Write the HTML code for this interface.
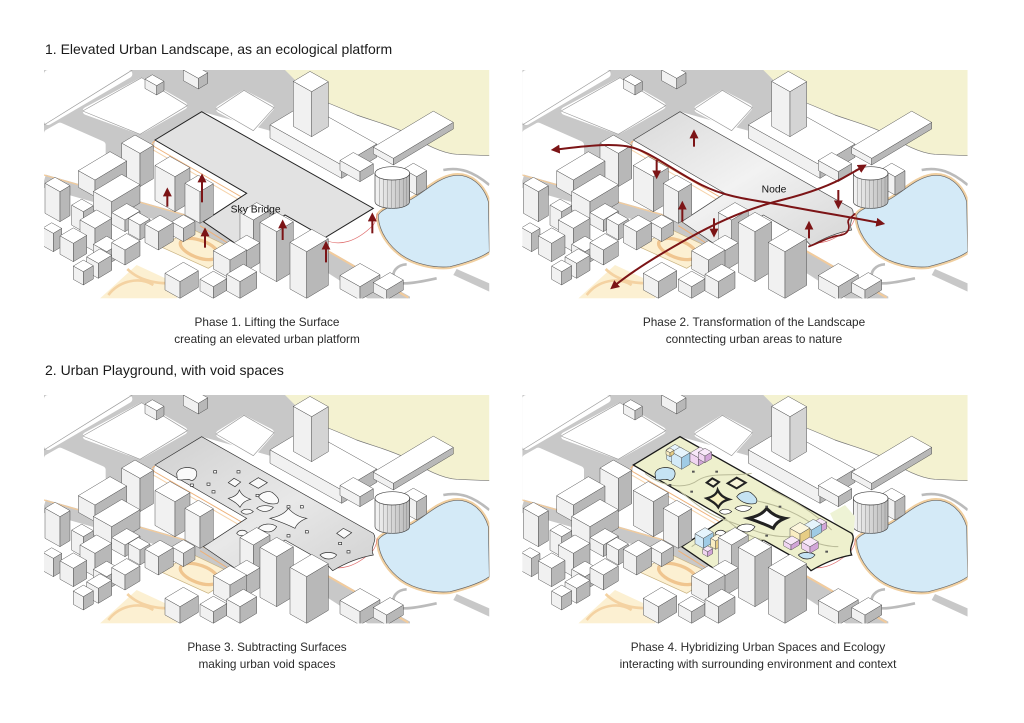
<!DOCTYPE html>
<html><head><meta charset="utf-8">
<style>
html,body{margin:0;padding:0;background:#fff;}
svg{display:block;font-family:"Liberation Sans",Arial,sans-serif;}
.l{fill:#f1f1f1}.r{fill:#b8b8b8}.t{fill:#fff}
.l,.r,.t{stroke:#444;stroke-width:.45;vector-effect:non-scaling-stroke}
.bl .l{fill:#d3eaf8}.bl .r{fill:#9fcbe5}.bl .t{fill:#e6f4fc}
.pk .l{fill:#f0d5f1}.pk .r{fill:#d2a5d8}.pk .t{fill:#f8e8f9}
.yl .l{fill:#f9edc2}.yl .r{fill:#e6cd85}.yl .t{fill:#fcf6dc}
</style></head>
<body>
<svg width="1024" height="723" viewBox="0 0 1024 723" xmlns="http://www.w3.org/2000/svg">
<defs>
<clipPath id="pc"><rect x="12" y="15" width="1336" height="685"/></clipPath>
<linearGradient id="cyl" x1="0" x2="1" y1="0" y2="0"><stop offset="0" stop-color="#f4f4f4"/><stop offset="1" stop-color="#b8b8b8"/></linearGradient>
<linearGradient id="g2" x1="0" x2="1" y1="0" y2="1"><stop offset="0" stop-color="#d9d9d9"/><stop offset=".5" stop-color="#f2f2f2"/><stop offset="1" stop-color="#d6d6d6"/></linearGradient>
<linearGradient id="g3" x1="0" x2="1" y1="0" y2="1"><stop offset="0" stop-color="#d0d0d0"/><stop offset=".55" stop-color="#e8e8e8"/><stop offset="1" stop-color="#d2d2d2"/></linearGradient>
<marker id="ah" viewBox="0 0 10 10" refX="6" refY="5" markerWidth="4.5" markerHeight="4.5" orient="auto-start-reverse"><path d="M0,0 L10,5 L0,10 Z" fill="#7c1416"/></marker>

<path id="plat" d="M345,225 L485,140 L1000,430 L855,518 L735,450 L600,545 L490,470 L620,385 Z"/>
<path id="platw" d="M345,225 L485,140 L1000,430 C1015,450 988,470 1000,495 C960,502 915,520 878,542 L855,518 L735,450 L600,545 L490,470 L620,385 Z"/>
<path id="lake" d="M1015,450 C1030,425 1080,420 1110,405 C1150,385 1190,340 1240,332 C1290,325 1330,360 1345,410 L1348,560 C1320,580 1270,595 1230,605 C1180,610 1120,595 1085,570 C1050,545 1015,500 1015,450 Z"/>

<g id="back">
 <rect x="0" y="0" width="1380" height="720" fill="#fff"/>
 <path fill="#f4f2d1" d="M700,15 L1348,15 L1348,272 L1250,268 C1205,265 1160,240 1100,205 C1050,180 1000,168 950,150 C900,128 860,112 820,96 C775,78 735,50 700,15 Z"/>
 <path fill="none" stroke="#777" stroke-width="2" d="M1348,272 L1250,268 C1205,265 1160,240 1100,205 C1050,180 1000,168 950,150 C900,128 860,112 820,96 C775,78 735,50 700,15"/>
 <path fill="#c8c8c8" d="M12,15 L735,15 L790,70 L790,150 L700,200 L485,140 L345,225 L330,330 L12,330 Z"/>
 <g fill="#fff" stroke="#fff" stroke-width="24" stroke-linejoin="round">
  <path d="M24,27 L265,27 L24,168 Z"/>
  <path d="M140,138 L305,50 L430,122 L300,196 Z"/>
  <path d="M540,132 L612,88 L690,128 L640,185 Z"/>
  <path d="M24,205 L60,185 L185,240 L185,330 L24,335 Z"/>
 </g>
 <g fill="none" stroke="#9a9a9a" stroke-width="2" stroke-linejoin="round">
  <path d="M12,180 L277,15"/>
  <path d="M128,138 L305,38 L442,122 L300,208 Z"/>
  <path d="M528,132 L612,76 L702,128 L640,197 Z"/>
 </g>
 <path d="M12,348 L230,410 L470,478 L625,560" stroke="#c8c8c8" stroke-width="40" fill="none"/>
 <path d="M12,330 L230,392 L470,460 L625,540" stroke="#f2cb9c" stroke-width="4" fill="none"/>
 <path fill="#c8c8c8" d="M858,552 L1110,695 L1110,705 L990,705 L850,615 Z"/>
 <path d="M860,556 L1105,698" stroke="#f2cb9c" stroke-width="6"/>
 <!-- parks -->
 <path fill="#fcf0d2" stroke="#c9b27f" stroke-width="2" d="M362,545 L455,492 L590,556 L505,610 Z"/>
 <ellipse cx="478" cy="552" rx="60" ry="26" fill="none" stroke="#f0c58f" stroke-width="10" transform="rotate(20 478 552)"/>
 <path fill="#fcf0d2" d="M180,700 L290,600 L430,665 L410,700 Z"/>
 <path d="M205,690 C240,645 300,635 340,660 M262,612 C300,650 360,660 420,652" stroke="#f4d2a2" stroke-width="8" fill="none"/>
 <!-- lake -->
 <use href="#lake" fill="none" stroke="#f0cfa0" stroke-width="14"/>
 <use href="#lake" fill="#d4eaf7" stroke="#666" stroke-width="2"/>
 <path d="M1210,315 C1260,305 1300,320 1348,360" stroke="#bbb" stroke-width="8" fill="none"/>
 <path d="M1100,598 C1070,600 1055,620 1062,640 C1070,660 1100,660 1190,640" stroke="#bbb" stroke-width="8" fill="none"/>
 <path fill="#c8c8c8" d="M1250,612 L1348,655 L1348,680 L1240,630 Z"/>
 <path d="M855,525 C900,545 950,530 1000,480 C1010,465 1010,455 1012,445" stroke="#e07070" stroke-width="2" fill="none"/>
 <path d="M345,228 Q330,236 345,246 L615,402" stroke="#eeb27a" stroke-width="3" fill="none"/>
 <path d="M338,234 Q325,248 345,258 L610,412" stroke="#f6d3aa" stroke-width="3" fill="none"/>
 <path d="M480,482 L600,557" stroke="#eeb27a" stroke-width="3" fill="none"/>
 <!-- back buildings -->
 <g transform="translate(350,90)"><rect class="l" transform="skewY(29.25)" x="-35" y="-28" width="35" height="28"/><rect class="r" transform="skewY(-30.96)" y="-28" width="22" height="28"/><rect class="t" transform="matrix(-1,-.56,1,-.6,0,-28)" width="35" height="22"/></g>
 <g transform="translate(475,72)"><rect class="l" transform="skewY(29.25)" x="-45" y="-32" width="45" height="32"/><rect class="r" transform="skewY(-30.96)" y="-32" width="28" height="32"/><rect class="t" transform="matrix(-1,-.56,1,-.6,0,-32)" width="45" height="28"/></g>
 <g transform="translate(905,340)"><rect class="l" transform="skewY(29.25)" x="-215" y="-40" width="215" height="40"/><rect class="r" transform="skewY(-30.96)" y="-40" width="105" height="40"/><rect class="t" transform="matrix(-1,-.56,1,-.6,0,-40)" width="215" height="105"/></g>
 <g transform="translate(815,215)"><rect class="l" transform="skewY(29.25)" x="-55" y="-135" width="55" height="135"/><rect class="r" transform="skewY(-30.96)" y="-135" width="50" height="135" style="fill:#d4d4d4"/><rect class="t" transform="matrix(-1,-.56,1,-.6,0,-135)" width="55" height="50"/></g>
 <g transform="translate(1060,300)"><rect class="l" transform="skewY(29.25)" x="-60" y="-20" width="60" height="20"/><rect class="r" transform="skewY(-30.96)" y="-20" width="180" height="20"/><rect class="t" transform="matrix(-1,-.56,1,-.6,0,-20)" width="60" height="180"/></g>
 <g transform="translate(960,350)"><rect class="l" transform="skewY(29.25)" x="-60" y="-30" width="60" height="30"/><rect class="r" transform="skewY(-30.96)" y="-30" width="40" height="30"/><rect class="t" transform="matrix(-1,-.56,1,-.6,0,-30)" width="60" height="40"/></g>
 <g transform="translate(1130,390)"><rect class="l" transform="skewY(29.25)" x="-40" y="-55" width="40" height="55"/><rect class="r" transform="skewY(-30.96)" y="-55" width="30" height="55"/><rect class="t" transform="matrix(-1,-.56,1,-.6,0,-55)" width="40" height="30"/></g>
 <path d="M1005,325 V410 A52,20 0 0 0 1109,410 V325 Z" fill="url(#cyl)" stroke="#444" stroke-width="2"/>
 <path d="M1018,330V422 M1030,330V427 M1042,330V430 M1054,330V430 M1066,330V430 M1078,330V428 M1090,330V425 M1100,330V420" stroke="#8a8a8a" stroke-width="1.5"/>
 <ellipse cx="1057" cy="325" rx="52" ry="20" fill="#fff" stroke="#444" stroke-width="2"/>
 <!-- left cluster -->
 <g transform="translate(300,365)"><rect class="l" transform="skewY(29.25)" x="-55" y="-100" width="55" height="100"/><rect class="r" transform="skewY(-30.96)" y="-100" width="40" height="100"/><rect class="t" transform="matrix(-1,-.56,1,-.6,0,-100)" width="55" height="40"/></g>
 <g transform="translate(165,395)"><rect class="l" transform="skewY(29.25)" x="-50" y="-50" width="50" height="50"/><rect class="r" transform="skewY(-30.96)" y="-50" width="95" height="50"/><rect class="t" transform="matrix(-1,-.56,1,-.6,0,-50)" width="50" height="95"/></g>
 <g transform="translate(405,440)"><rect class="l" transform="skewY(29.25)" x="-60" y="-105" width="60" height="105"/><rect class="r" transform="skewY(-30.96)" y="-105" width="45" height="105"/><rect class="t" transform="matrix(-1,-.56,1,-.6,0,-105)" width="60" height="45"/></g>
 <g transform="translate(215,465)"><rect class="l" transform="skewY(29.25)" x="-55" y="-55" width="55" height="55"/><rect class="r" transform="skewY(-30.96)" y="-55" width="85" height="55"/><rect class="t" transform="matrix(-1,-.56,1,-.6,0,-55)" width="55" height="85"/></g>
 <g transform="translate(60,470)"><rect class="l" transform="skewY(29.25)" x="-45" y="-90" width="45" height="90"/><rect class="r" transform="skewY(-30.96)" y="-90" width="30" height="90"/><rect class="t" transform="matrix(-1,-.56,1,-.6,0,-90)" width="45" height="30"/></g>
 <g transform="translate(130,500)"><rect class="l" transform="skewY(29.25)" x="-35" y="-60" width="35" height="60"/><rect class="r" transform="skewY(-30.96)" y="-60" width="30" height="60"/><rect class="t" transform="matrix(-1,-.56,1,-.6,0,-60)" width="35" height="30"/></g>
 <g transform="translate(255,500)"><rect class="l" transform="skewY(29.25)" x="-40" y="-35" width="40" height="35"/><rect class="r" transform="skewY(-30.96)" y="-35" width="45" height="35"/><rect class="t" transform="matrix(-1,-.56,1,-.6,0,-35)" width="40" height="45"/></g>
 <g transform="translate(300,525)"><rect class="l" transform="skewY(29.25)" x="-35" y="-45" width="35" height="45"/><rect class="r" transform="skewY(-30.96)" y="-45" width="30" height="45"/><rect class="t" transform="matrix(-1,-.56,1,-.6,0,-45)" width="35" height="30"/></g>
 <g transform="translate(430,530)"><rect class="l" transform="skewY(29.25)" x="-35" y="-40" width="35" height="40"/><rect class="r" transform="skewY(-30.96)" y="-40" width="35" height="40"/><rect class="t" transform="matrix(-1,-.56,1,-.6,0,-40)" width="35" height="35"/></g>
 <g transform="translate(355,555)"><rect class="l" transform="skewY(29.25)" x="-40" y="-55" width="40" height="55"/><rect class="r" transform="skewY(-30.96)" y="-55" width="45" height="55"/><rect class="t" transform="matrix(-1,-.56,1,-.6,0,-55)" width="40" height="45"/></g>
 <g transform="translate(40,560)"><rect class="l" transform="skewY(29.25)" x="-30" y="-55" width="30" height="55"/><rect class="r" transform="skewY(-30.96)" y="-55" width="25" height="55"/><rect class="t" transform="matrix(-1,-.56,1,-.6,0,-55)" width="30" height="25"/></g>
 <g transform="translate(165,560)"><rect class="l" transform="skewY(29.25)" x="-45" y="-70" width="45" height="70"/><rect class="r" transform="skewY(-30.96)" y="-70" width="50" height="70"/><rect class="t" transform="matrix(-1,-.56,1,-.6,0,-70)" width="45" height="50"/></g>
 <g transform="translate(100,590)"><rect class="l" transform="skewY(29.25)" x="-40" y="-55" width="40" height="55"/><rect class="r" transform="skewY(-30.96)" y="-55" width="40" height="55"/><rect class="t" transform="matrix(-1,-.56,1,-.6,0,-55)" width="40" height="40"/></g>
 <g transform="translate(200,600)"><rect class="l" transform="skewY(29.25)" x="-40" y="-40" width="40" height="40"/><rect class="r" transform="skewY(-30.96)" y="-40" width="40" height="40"/><rect class="t" transform="matrix(-1,-.56,1,-.6,0,-40)" width="40" height="40"/></g>
 <g transform="translate(255,600)"><rect class="l" transform="skewY(29.25)" x="-40" y="-45" width="40" height="45"/><rect class="r" transform="skewY(-30.96)" y="-45" width="45" height="45"/><rect class="t" transform="matrix(-1,-.56,1,-.6,0,-45)" width="40" height="45"/></g>
 <g transform="translate(175,640)"><rect class="l" transform="skewY(29.25)" x="-35" y="-45" width="35" height="45"/><rect class="r" transform="skewY(-30.96)" y="-45" width="40" height="45"/><rect class="t" transform="matrix(-1,-.56,1,-.6,0,-45)" width="35" height="40"/></g>
 <g transform="translate(130,660)"><rect class="l" transform="skewY(29.25)" x="-30" y="-40" width="30" height="40"/><rect class="r" transform="skewY(-30.96)" y="-40" width="30" height="40"/><rect class="t" transform="matrix(-1,-.56,1,-.6,0,-40)" width="30" height="30"/></g>
 <g transform="translate(420,700)"><rect class="l" transform="skewY(29.25)" x="-45" y="-50" width="45" height="50"/><rect class="r" transform="skewY(-30.96)" y="-50" width="55" height="50"/><rect class="t" transform="matrix(-1,-.56,1,-.6,0,-50)" width="45" height="55"/></g>
 <g transform="translate(520,700)"><rect class="l" transform="skewY(29.25)" x="-40" y="-35" width="40" height="35"/><rect class="r" transform="skewY(-30.96)" y="-35" width="40" height="35"/><rect class="t" transform="matrix(-1,-.56,1,-.6,0,-35)" width="40" height="40"/></g>
</g>

<g id="front">
 <g transform="translate(480,475)"><rect class="l" transform="skewY(29.25)" x="-45" y="-95" width="45" height="95"/><rect class="r" transform="skewY(-30.96)" y="-95" width="40" height="95"/><rect class="t" transform="matrix(-1,-.56,1,-.6,0,-95)" width="45" height="40"/></g>
 <g transform="translate(640,580)"><rect class="l" transform="skewY(29.25)" x="-40" y="-115" width="40" height="115"/><rect class="r" transform="skewY(-30.96)" y="-115" width="50" height="115"/><rect class="t" transform="matrix(-1,-.56,1,-.6,0,-115)" width="40" height="50"/></g>
 <g transform="translate(615,620)"><rect class="l" transform="skewY(29.25)" x="-40" y="-60" width="40" height="60"/><rect class="r" transform="skewY(-30.96)" y="-60" width="45" height="60"/><rect class="t" transform="matrix(-1,-.56,1,-.6,0,-60)" width="40" height="45"/></g>
 <g transform="translate(570,640)"><rect class="l" transform="skewY(29.25)" x="-50" y="-55" width="50" height="55"/><rect class="r" transform="skewY(-30.96)" y="-55" width="50" height="55"/><rect class="t" transform="matrix(-1,-.56,1,-.6,0,-55)" width="50" height="50"/></g>
 <g transform="translate(710,650)"><rect class="l" transform="skewY(29.25)" x="-50" y="-150" width="50" height="150"/><rect class="r" transform="skewY(-30.96)" y="-150" width="50" height="150"/><rect class="t" transform="matrix(-1,-.56,1,-.6,0,-150)" width="50" height="50"/></g>
 <g transform="translate(600,700)"><rect class="l" transform="skewY(29.25)" x="-40" y="-50" width="40" height="50"/><rect class="r" transform="skewY(-30.96)" y="-50" width="50" height="50"/><rect class="t" transform="matrix(-1,-.56,1,-.6,0,-50)" width="40" height="50"/></g>
 <g transform="translate(800,700)"><rect class="l" transform="skewY(29.25)" x="-50" y="-140" width="50" height="140"/><rect class="r" transform="skewY(-30.96)" y="-140" width="65" height="140"/><rect class="t" transform="matrix(-1,-.56,1,-.6,0,-140)" width="50" height="65"/></g>
 <g transform="translate(960,705)"><rect class="l" transform="skewY(29.25)" x="-60" y="-40" width="60" height="40"/><rect class="r" transform="skewY(-30.96)" y="-40" width="60" height="40"/><rect class="t" transform="matrix(-1,-.56,1,-.6,0,-40)" width="60" height="60"/></g>
 <g transform="translate(1040,705)"><rect class="l" transform="skewY(29.25)" x="-40" y="-30" width="40" height="30"/><rect class="r" transform="skewY(-30.96)" y="-30" width="50" height="30"/><rect class="t" transform="matrix(-1,-.56,1,-.6,0,-30)" width="40" height="50"/></g>
</g>

<g id="holes">
 <path d="M410,250 C415,232 445,228 465,238 C475,248 470,268 455,272 C440,262 425,275 412,268 Z"/>
 <path d="M565,278 L582,265 L602,276 L585,290 Z"/>
 <path d="M628,280 L655,263 L682,278 L655,295 Z"/>
 <path d="M565,325 C585,320 595,312 598,300 C605,315 615,322 632,328 C612,333 605,342 600,352 C592,340 582,335 565,325 Z"/>
 <path d="M655,320 C665,305 690,300 700,310 C710,318 722,330 712,340 C695,345 670,340 655,320 Z"/>
 <path d="M650,355 C660,345 685,345 700,352 C690,365 670,370 650,355 Z"/>
 <path d="M603,365 C612,355 630,355 640,365 C628,375 612,375 603,365 Z"/>
 <path d="M690,385 C715,380 735,370 745,355 C760,372 780,382 800,385 C782,392 770,402 765,415 C745,405 720,395 690,385 Z"/>
 <path d="M655,415 C665,400 695,398 710,410 C700,428 680,432 655,415 Z"/>
 <path d="M590,430 C597,418 615,418 622,428 C612,440 598,440 590,430 Z"/>
 <path d="M890,430 L910,415 L935,428 L912,445 Z"/>
 <path d="M840,495 C850,485 880,485 890,495 C880,510 855,512 840,495 Z"/>
 <rect x="521" y="242" width="9" height="7"/><rect x="591" y="242" width="9" height="7"/><rect x="501" y="279" width="9" height="7"/><rect x="451" y="282" width="9" height="7"/><rect x="516" y="302" width="9" height="7"/><rect x="648" y="313" width="9" height="7"/><rect x="741" y="347" width="9" height="7"/><rect x="781" y="347" width="9" height="7"/><rect x="741" y="434" width="9" height="7"/><rect x="796" y="422" width="9" height="7"/><rect x="601" y="452" width="9" height="7"/><rect x="921" y="482" width="9" height="7"/><rect x="896" y="457" width="9" height="7"/>
</g>
</defs>

<!-- HEADINGS / CAPTIONS -->
<text x="45" y="54" font-size="14" fill="#1a1a1a">1. Elevated Urban Landscape, as an ecological platform</text>
<text x="45" y="375" font-size="14" fill="#1a1a1a">2. Urban Playground, with void spaces</text>
<g font-size="11.8" fill="#2a2a2a" text-anchor="middle">
<text x="267" y="326">Phase 1. Lifting the Surface</text>
<text x="267" y="343">creating an elevated urban platform</text>
<text x="754" y="326">Phase 2. Transformation of the Landscape</text>
<text x="754" y="343">conntecting urban areas to nature</text>
<text x="267" y="651">Phase 3. Subtracting Surfaces</text>
<text x="267" y="668">making urban void spaces</text>
<text x="758" y="651">Phase 4. Hybridizing Urban Spaces and Ecology</text>
<text x="758" y="668">interacting with surrounding environment and context</text>
</g>

<!-- PANEL 1 -->
<g transform="translate(40,65) scale(.33333)" clip-path="url(#pc)">
 <use href="#back"/>
 <use href="#plat" fill="#e2e2e2" stroke="#222" stroke-width="3"/>
 <use href="#front"/>
 <g stroke="#7c1416" stroke-width="6" marker-end="url(#ah)" fill="none">
  <path d="M382,425 L382,378"/><path d="M486,412 L486,336"/><path d="M495,548 L495,498"/>
  <path d="M728,525 L728,474"/><path d="M858,592 L858,538"/><path d="M997,505 L997,453"/>
 </g>
 <text x="572" y="442" font-size="31" fill="#111">Sky Bridge</text>
</g>

<!-- PANEL 2 -->
<g transform="translate(518.33,65) scale(.33333)" clip-path="url(#pc)">
 <use href="#back"/>
 <use href="#platw" fill="url(#g2)" stroke="#444" stroke-width="2"/>
 <use href="#front"/>
 <g stroke="#7c1416" fill="none">
  <path d="M870,545 C900,535 930,515 970,510 C990,505 995,490 990,475 C985,460 1005,455 1010,445" stroke-width="5"/>
  <g stroke-width="6" marker-end="url(#ah)">
   <path d="M527,245 L527,204"/><path d="M415,285 L415,332"/><path d="M492,470 L492,418"/>
   <path d="M587,460 L587,507"/><path d="M872,520 L872,478"/><path d="M960,375 L960,422"/>
  </g>
  <path stroke-width="6" marker-start="url(#ah)" marker-end="url(#ah)" d="M108,254 C190,245 290,230 350,250 C410,270 470,320 550,360 C630,400 710,405 790,420 C890,440 990,455 1090,475"/>
  <path stroke-width="6" marker-start="url(#ah)" marker-end="url(#ah)" d="M284,666 C340,620 420,570 510,520 C590,475 690,430 790,405 C870,385 940,360 990,330 L1036,304"/>
 </g>
 <text x="730" y="383" font-size="31" fill="#111">Node</text>
</g>

<!-- PANEL 3 -->
<g transform="translate(40,390) scale(.33333)" clip-path="url(#pc)">
 <use href="#back"/>
 <use href="#platw" fill="url(#g3)" stroke="#333" stroke-width="2"/>
 <use href="#holes" fill="#fafafa" stroke="#333" stroke-width="2"/>
 <use href="#front"/>
</g>

<!-- PANEL 4 -->
<g transform="translate(518.33,390) scale(.33333)" clip-path="url(#pc)">
 <use href="#back"/>
 <path d="M935,370 L980,345 L1010,380 L1005,440 L960,420 Z" fill="#eef3d5"/>
 <use href="#platw" fill="#eef0cd" stroke="#1a1a1a" stroke-width="4"/>
 <path d="M380,250 C430,290 500,300 540,270 C580,245 640,260 700,250 M480,300 C520,330 560,370 620,390 C680,410 740,440 800,440 C860,440 900,470 960,470 M620,385 C660,420 700,445 740,450 M520,470 C560,440 600,430 640,420 M700,330 C760,340 820,360 880,400 M760,300 C820,330 880,360 940,420" fill="none" stroke="#b9ba98" stroke-width="3"/>
 <g stroke="#222" stroke-width="2">
  <path fill="#c5e3f3" d="M410,250 C415,232 445,228 465,238 C475,248 470,268 455,272 C440,262 425,275 412,268 Z"/>
  <path fill="#f6f3d8" stroke-width="6" d="M565,278 L582,265 L602,276 L585,290 Z"/>
  <path fill="#f6f3d8" stroke-width="6" d="M628,280 L655,263 L682,278 L655,295 Z"/>
  <path fill="#f6f0c0" stroke-width="7" d="M565,325 C585,320 595,312 598,300 C605,315 615,322 632,328 C612,333 605,342 600,352 C592,340 582,335 565,325 Z"/>
  <path fill="#c5e3f3" d="M655,320 C665,305 690,300 700,310 C710,318 722,330 712,340 C695,345 670,340 655,320 Z"/>
  <path fill="#fff" d="M650,355 C660,345 685,345 700,352 C690,365 670,370 650,355 Z"/>
  <path fill="#fff" d="M603,365 C612,355 630,355 640,365 C628,375 612,375 603,365 Z"/>
  <path fill="#fff" stroke-width="9" d="M690,385 C715,380 735,370 745,355 C760,372 780,382 800,385 C782,392 770,402 765,415 C745,405 720,395 690,385 Z"/>
  <path fill="#fff" d="M655,415 C665,400 695,398 710,410 C700,428 680,432 655,415 Z"/>
  <path fill="#fff" d="M590,430 C597,418 615,418 622,428 C612,440 598,440 590,430 Z"/>
  <path fill="#c5e3f3" d="M840,495 C850,485 880,485 890,495 C880,510 855,512 840,495 Z"/>
 </g>
 <g fill="#555"><rect x="521" y="242" width="8" height="6"/><rect x="591" y="242" width="8" height="6"/><rect x="451" y="282" width="8" height="6"/><rect x="516" y="302" width="8" height="6"/><rect x="741" y="347" width="8" height="6"/><rect x="781" y="347" width="8" height="6"/><rect x="741" y="434" width="8" height="6"/><rect x="921" y="482" width="8" height="6"/></g>
 <!-- colored clusters -->
 <g class="bl" transform="translate(470,222)"><rect class="l" transform="skewY(29.25)" x="-25" y="-30" width="25" height="30"/><rect class="r" transform="skewY(-30.96)" y="-30" width="25" height="30"/><rect class="t" transform="matrix(-1,-.56,1,-.6,0,-30)" width="25" height="25"/></g>
 <g class="bl" transform="translate(490,238)"><rect class="l" transform="skewY(29.25)" x="-30" y="-35" width="30" height="35"/><rect class="r" transform="skewY(-30.96)" y="-35" width="25" height="35"/><rect class="t" transform="matrix(-1,-.56,1,-.6,0,-35)" width="30" height="25"/></g>
 <g class="pk" transform="translate(540,228)"><rect class="l" transform="skewY(29.25)" x="-25" y="-25" width="25" height="25"/><rect class="r" transform="skewY(-30.96)" y="-25" width="30" height="25"/><rect class="t" transform="matrix(-1,-.56,1,-.6,0,-25)" width="25" height="30"/></g>
 <g class="pk" transform="translate(560,218)"><rect class="l" transform="skewY(29.25)" x="-20" y="-20" width="20" height="20"/><rect class="r" transform="skewY(-30.96)" y="-20" width="20" height="20"/><rect class="t" transform="matrix(-1,-.56,1,-.6,0,-20)" width="20" height="20"/></g>
 <g class="yl" transform="translate(455,200)"><rect class="l" transform="skewY(29.25)" x="-12" y="-12" width="12" height="12"/><rect class="r" transform="skewY(-30.96)" y="-12" width="12" height="12"/><rect class="t" transform="matrix(-1,-.56,1,-.6,0,-12)" width="12" height="12"/></g>
 <g class="pk" transform="translate(905,428)"><rect class="l" transform="skewY(29.25)" x="-20" y="-20" width="20" height="20"/><rect class="r" transform="skewY(-30.96)" y="-20" width="20" height="20"/><rect class="t" transform="matrix(-1,-.56,1,-.6,0,-20)" width="20" height="20"/></g>
 <g class="bl" transform="translate(880,445)"><rect class="l" transform="skewY(29.25)" x="-25" y="-25" width="25" height="25"/><rect class="r" transform="skewY(-30.96)" y="-25" width="30" height="25"/><rect class="t" transform="matrix(-1,-.56,1,-.6,0,-25)" width="25" height="30"/></g>
 <g class="yl" transform="translate(845,462)"><rect class="l" transform="skewY(29.25)" x="-30" y="-30" width="30" height="30"/><rect class="r" transform="skewY(-30.96)" y="-30" width="30" height="30"/><rect class="t" transform="matrix(-1,-.56,1,-.6,0,-30)" width="30" height="30"/></g>
 <g class="pk" transform="translate(818,480)"><rect class="l" transform="skewY(29.25)" x="-22" y="-15" width="22" height="15"/><rect class="r" transform="skewY(-30.96)" y="-15" width="25" height="15"/><rect class="t" transform="matrix(-1,-.56,1,-.6,0,-15)" width="22" height="25"/></g>
 <g class="pk" transform="translate(875,490)"><rect class="l" transform="skewY(29.25)" x="-25" y="-20" width="25" height="20"/><rect class="r" transform="skewY(-30.96)" y="-20" width="25" height="20"/><rect class="t" transform="matrix(-1,-.56,1,-.6,0,-20)" width="25" height="25"/></g>
 <g class="bl" transform="translate(555,475)"><rect class="l" transform="skewY(29.25)" x="-25" y="-30" width="25" height="30"/><rect class="r" transform="skewY(-30.96)" y="-30" width="30" height="30"/><rect class="t" transform="matrix(-1,-.56,1,-.6,0,-30)" width="25" height="30"/></g>
 <g class="yl" transform="translate(592,478)"><rect class="l" transform="skewY(29.25)" x="-15" y="-25" width="15" height="25"/><rect class="r" transform="skewY(-30.96)" y="-25" width="20" height="25"/><rect class="t" transform="matrix(-1,-.56,1,-.6,0,-25)" width="15" height="20"/></g>
 <g class="pk" transform="translate(568,500)"><rect class="l" transform="skewY(29.25)" x="-15" y="-15" width="15" height="15"/><rect class="r" transform="skewY(-30.96)" y="-15" width="15" height="15"/><rect class="t" transform="matrix(-1,-.56,1,-.6,0,-15)" width="15" height="15"/></g>
 <use href="#front"/>
</g>
</svg>
</body></html>
